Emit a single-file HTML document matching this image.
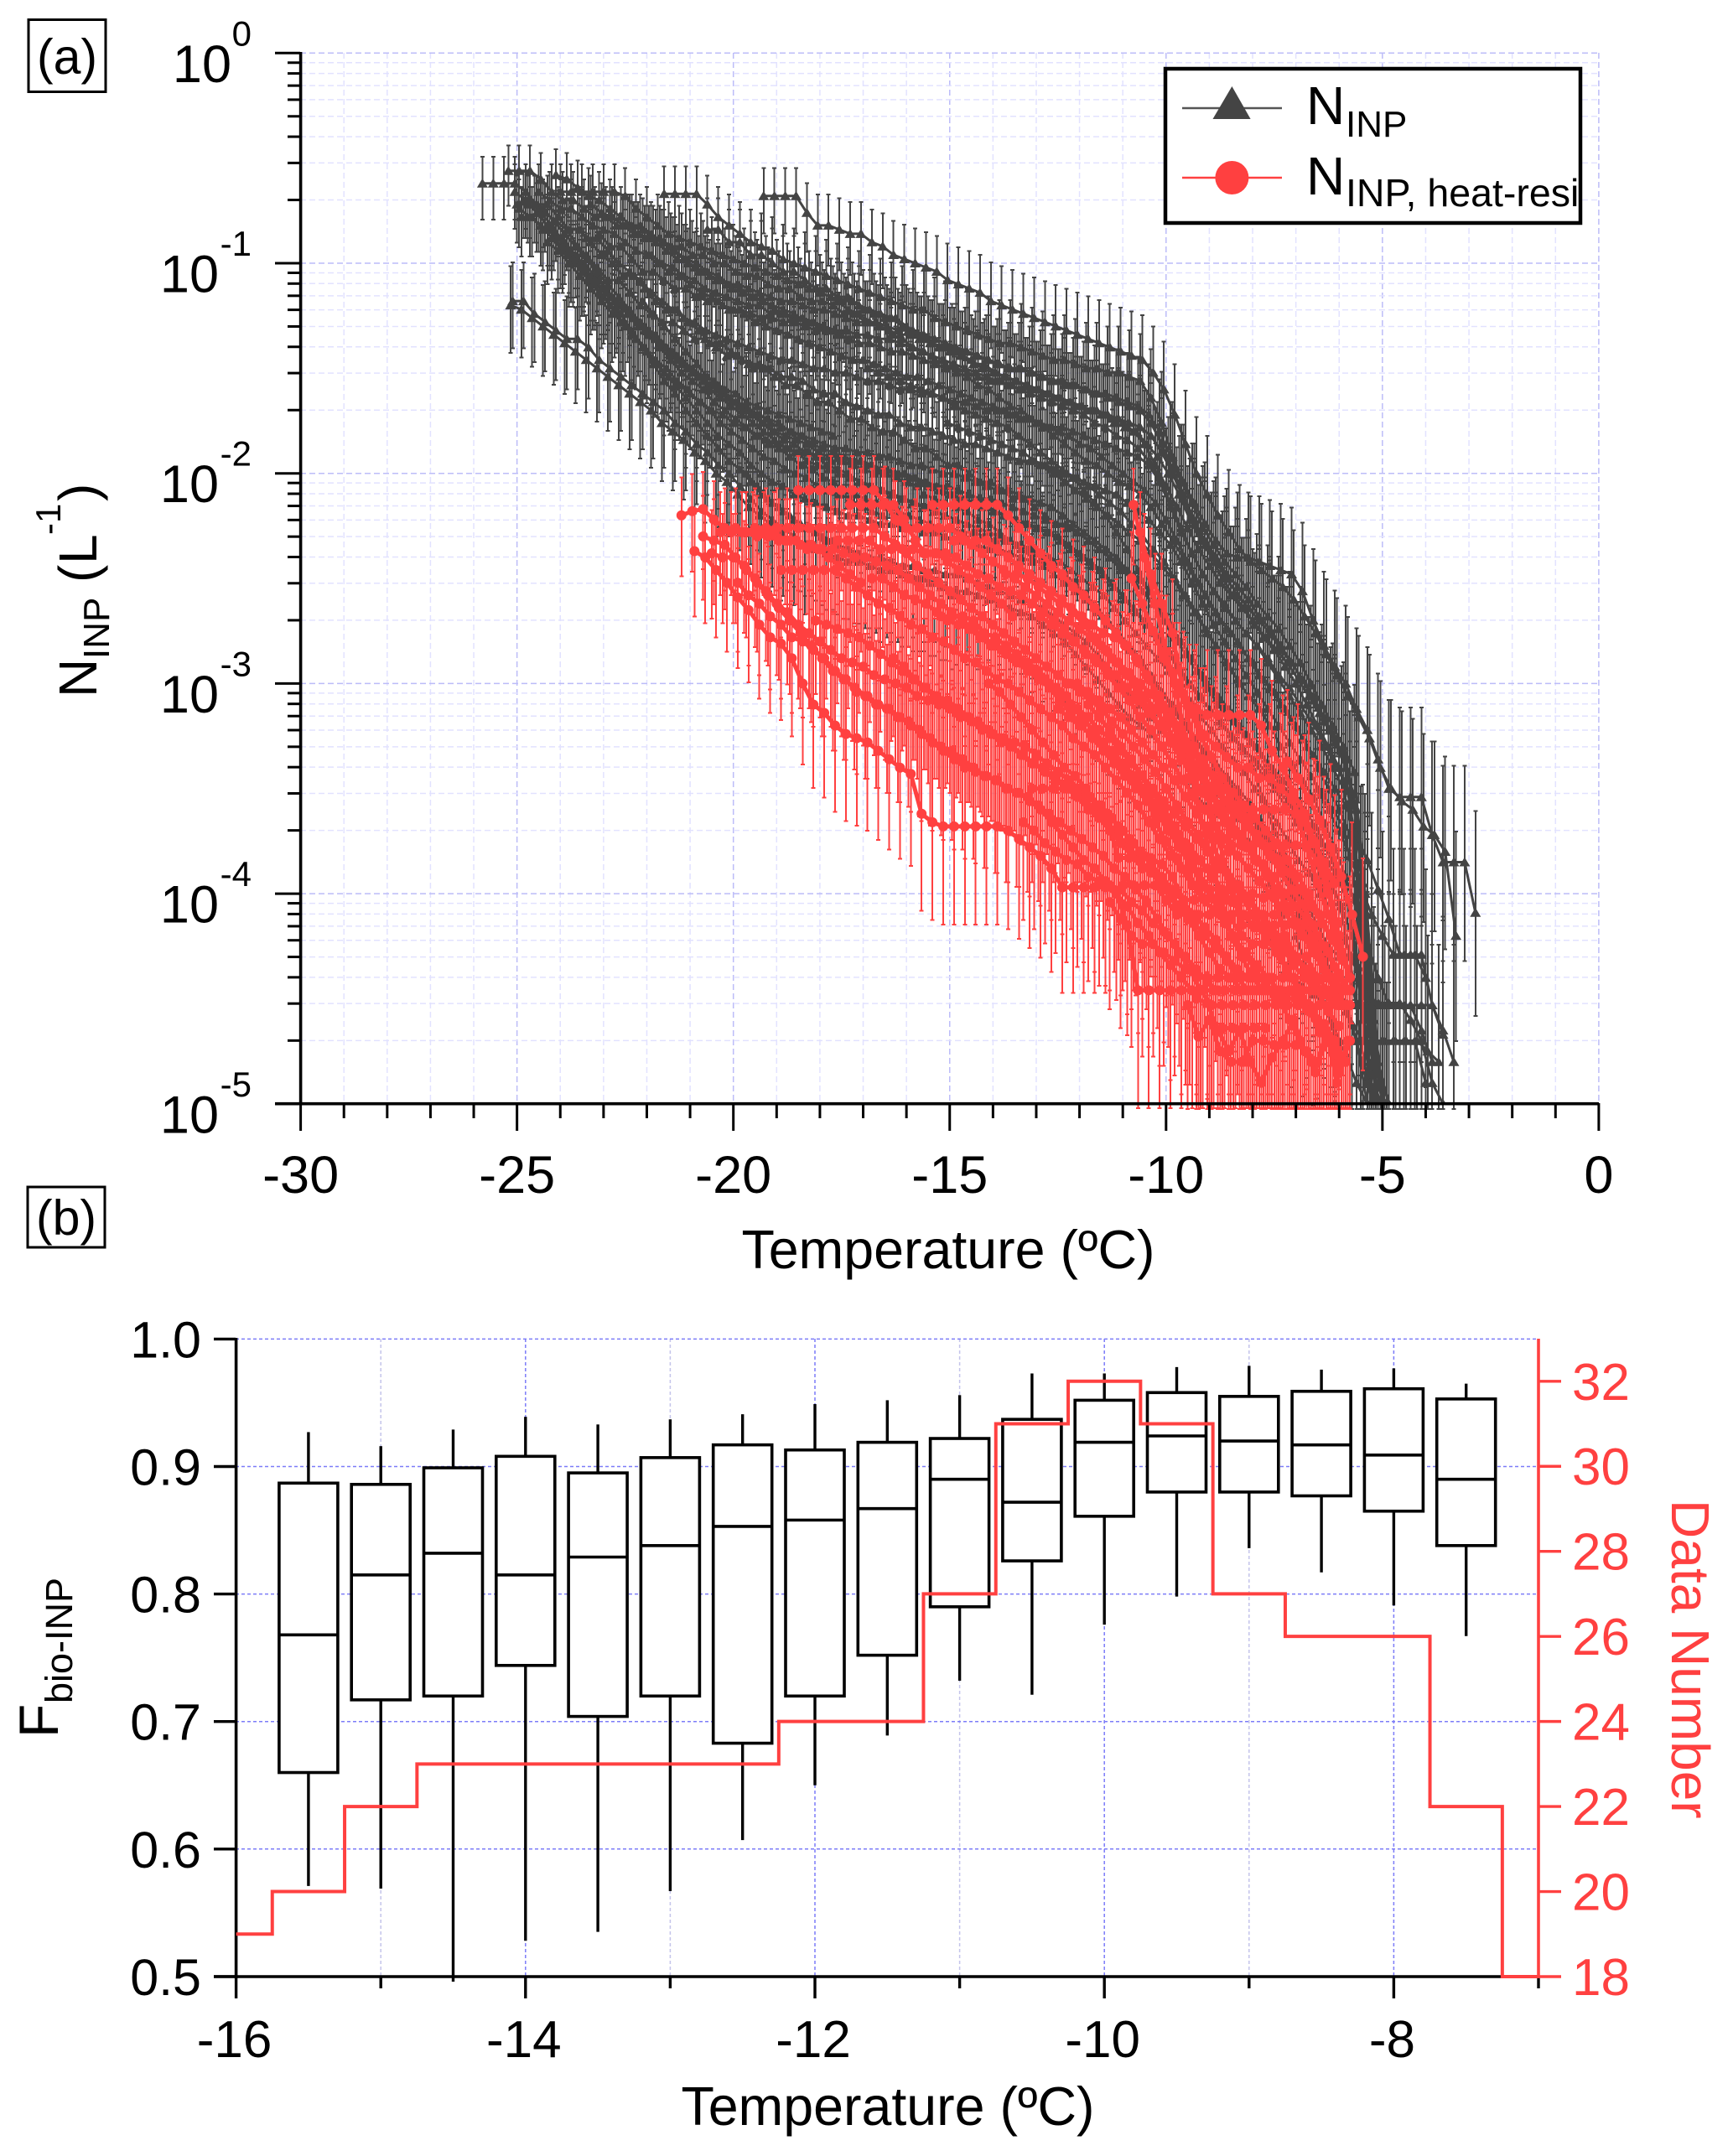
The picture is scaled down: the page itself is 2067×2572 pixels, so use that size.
<!DOCTYPE html>
<html lang="en">
<head>
<meta charset="utf-8">
<title>INP concentration and biological fraction versus temperature</title>
<style>
html,body{margin:0;padding:0;background:#fff;}
svg{display:block;font-family:"Liberation Sans",Arial,sans-serif;}
</style>
</head>
<body>
<svg id="fig" xmlns="http://www.w3.org/2000/svg" width="2067" height="2572" viewBox="0 0 2067 2572">
<defs>
<clipPath id="clipA"><rect x="358" y="60" width="1552" height="1256.5"/></clipPath>
<clipPath id="clipBars"><rect x="358" y="60" width="1552" height="1264"/></clipPath>
</defs>
<rect x="0" y="0" width="2067" height="2572" fill="#fff"/>
<g id="gridA"></g>
<g id="dataA"></g>
<g id="axesA"></g>
<g>
<rect x="1390" y="82" width="495" height="184" fill="#fff" stroke="#000" stroke-width="4.5"/>
<g>
<line x1="1410" y1="129" x2="1529" y2="129" stroke="#555" stroke-width="2.5"/>
<path d="M1469.4 103 L1491.6 142 L1446.5 142 Z" fill="#444"/>
<text x="1558" y="148" font-size="64" fill="#000">N</text>
<text x="1605" y="163" font-size="44" fill="#000">INP</text>
</g>
<g>
<line x1="1410" y1="212" x2="1529" y2="212" stroke="#ff4040" stroke-width="2.5"/>
<circle cx="1469.4" cy="212" r="20" fill="#ff4040"/>
<text x="1558" y="232" font-size="64" fill="#000">N</text>
<text x="1605" y="246" font-size="46.5" fill="#000">INP, heat-resi</text>
</g>
</g>
<g>
<rect x="34" y="23.5" width="92" height="86" fill="none" stroke="#000" stroke-width="3"/>
<text x="80" y="88" font-size="59" text-anchor="middle">(a)</text>
</g>
<g>
<rect x="33" y="1416" width="92" height="72" fill="none" stroke="#000" stroke-width="3"/>
<text x="79" y="1473" font-size="59" text-anchor="middle">(b)</text>
</g>
<g>
<text transform="translate(115,832) rotate(-90)" font-size="64">N</text>
<text transform="translate(130,786) rotate(-90)" font-size="44">INP</text>
<text transform="translate(115,695) rotate(-90)" font-size="64">(</text>
<text transform="translate(115,673) rotate(-90)" font-size="64">L</text>
<text transform="translate(72,638) rotate(-90)" font-size="42">-1</text>
<text transform="translate(115,598) rotate(-90)" font-size="64">)</text>
</g>
<text x="1131" y="1513" font-size="64.5" text-anchor="middle">Temperature (ºC)</text>
<g id="gridB"></g>
<g id="dataB"></g>
<g id="axesB"></g>
<g>
<text transform="translate(69,2073) rotate(-90)" font-size="66">F</text>
<text transform="translate(86,2032) rotate(-90)" font-size="45">bio-INP</text>
</g>
<text x="1059" y="2535" font-size="64.5" text-anchor="middle">Temperature (ºC)</text>
<text transform="translate(1994,1789) rotate(90)" font-size="64" fill="#ff4040">Data Number</text>
</svg>
<script>
// Panel (a): values are -log10(N) x 100, one reading per 0.25 degC starting at the run's start temperature.
const gray01=[62,62,62,62,66,72,72,78,84,84,90,96,100,106,106,112,118,122,122,128,132,138,138,142,146,150,150,154,158,158,162,166,166,170,174,174,178,180,180,184,188,188,192,196,196,200,204,204,208,212,212,216,220,224,224,228,232,236,240,246,250,256,262,270,278,286,294,302,310,316,322,328,334,340,346,352,360,368,378,390,404,435,480,500];
const gray02=[118,118,124,128,132,136,136,140,146,150,154,158,162,166,170,176,180,186,190,196,200,206,212,218,222,226,230,234,236,238,240,242,242,244,246,246,248,250,250,252,254,256,256,258,260,262,264,266,268,272,276,280,286,292,298,304,310,316,320,324,330,338,346,352,358,362,366,370,375,385,395,410,440,444,448,452,468,476,490,500];
const gray03=[56,56,56,60,66,70,70,74,78,78,82,82,86,88,88,92,92,96,96,100,100,104,106,106,110,112,112,116,118,118,120,124,124,128,128,130,132,132,136,138,140,140,144,148,148,152,154,156,158,160,162,164,166,168,170,172,176,178,180,186,192,200,210,222,232,240,250,258,264,272,278,284,290,298,306,314,322,332,352,395,460,500];
const gray04=[66,66,66,66,66,66,68,74,78,82,86,88,90,92,94,96,98,100,102,104,106,108,110,112,114,116,118,118,122,124,126,126,130,134,136,140,142,144,146,150,152,154,156,158,160,162,164,166,168,170,172,174,176,180,186,196,206,216,226,236,244,252,258,264,270,278,284,292,300,310,320,330,340,356,400,470,500];
const gray05=[67,67,67,67,72,78,82,86,90,92,94,98,100,102,104,106,108,110,112,114,116,118,120,122,122,126,128,130,132,134,136,138,138,140,142,144,146,146,148,150,150,152,152,154,156,164,176,192,204,214,224,232,238,240,240,242,244,246,248,256,270,282,292,300,312,322,336,350,354,354,354,372,385,385,385,409];
const gray06=[68,68,68,68,76,82,82,84,86,86,90,92,96,98,100,102,104,108,110,112,114,118,120,122,124,126,128,130,132,134,136,138,140,142,144,146,152,160,172,186,200,210,220,228,236,242,246,250,254,260,268,276,286,296,306,316,326,340,350,356,360,368,372,380,420];
const gray07=[78,78,84,84,90,96,96,102,108,108,114,120,124,128,128,132,136,136,140,144,144,148,148,150,154,154,156,160,162,162,166,168,170,172,172,176,178,178,180,182,184,186,186,188,190,192,194,194,196,198,200,202,204,206,208,210,214,218,222,228,234,242,252,262,272,280,288,296,304,312,320,328,336,344,352,360,368,395,440,490,500];
const gray08=[72,72,76,84,92,98,104,110,116,122,130,136,142,148,154,158,162,166,170,172,176,178,182,184,186,188,190,190,192,194,194,196,198,200,200,202,204,206,206,208,210,212,214,216,218,220,222,224,226,228,230,234,238,242,246,252,258,264,270,276,284,292,300,306,312,318,324,330,336,344,350,358,366,374,384,394,404,430,470,500];
const gray09=[70,76,82,90,96,100,106,112,118,124,128,134,138,144,148,152,156,158,162,166,168,172,174,176,180,182,186,188,190,192,194,196,198,198,200,202,204,206,208,210,212,214,216,218,220,222,224,226,228,232,236,240,244,248,254,260,266,272,278,284,292,300,306,314,320,326,332,336,342,350,356,364,372,384,394,406,420,460,500];
const gray10=[74,80,86,92,98,104,110,116,122,128,134,138,142,148,152,156,160,164,166,170,172,176,178,180,182,184,186,188,188,190,190,192,192,194,196,196,198,200,200,202,204,206,208,208,210,212,214,216,220,224,228,232,236,240,246,250,256,264,272,280,288,296,304,312,318,324,330,338,346,352,360,368,376,384,392,402,440,500];
const gray11=[88,88,94,100,104,108,114,118,122,126,128,132,134,136,138,140,142,144,146,146,148,150,150,152,152,154,156,156,158,160,160,162,162,164,166,166,168,170,170,172,174,174,176,178,178,180,182,184,186,188,190,192,196,204,216,228,238,248,256,264,270,276,282,288,296,302,310,318,326,336,346,358,410,500];
const gray12=[86,92,92,98,104,104,108,112,112,116,118,118,122,122,124,126,126,128,128,130,132,132,134,136,138,138,140,142,142,144,146,148,150,150,152,154,156,156,158,160,160,162,164,166,168,170,170,172,174,176,178,182,190,200,212,224,234,242,250,258,264,270,276,284,290,298,306,316,326,336,360,410,480,500];
const gray13=[82,82,86,90,94,98,102,104,108,110,110,112,114,116,118,118,120,122,122,124,126,128,128,130,132,134,134,136,138,140,142,142,144,146,148,150,150,152,154,156,156,158,160,162,162,164,166,168,172,180,192,204,214,226,234,242,248,254,262,268,274,282,290,300,310,320,330,342,400,500];
const gray14=[84,84,90,90,96,96,100,104,104,108,112,112,116,116,120,122,124,126,130,132,134,136,138,140,142,144,146,148,150,150,152,154,156,158,158,160,162,164,166,168,170,176,186,198,210,222,232,240,248,254,260,268,274,282,290,298,308,318,328,340,390,460,500];
const gray15=[88,94,100,104,110,114,120,124,130,134,140,146,152,156,160,166,170,174,178,182,186,188,192,196,198,202,204,208,210,212,214,216,218,220,222,224,226,226,228,228,230,232,232,234,236,238,240,242,246,250,254,258,264,270,276,282,288,294,300,308,316,322,330,336,342,350,358,366,374,384,390,400,410,420,430,446,470,500];
const gray16=[96,100,106,112,116,120,126,132,136,140,146,150,154,158,162,166,170,172,176,180,182,184,186,190,192,192,194,194,196,198,200,200,202,204,206,206,208,210,212,212,214,216,218,220,222,224,226,228,232,236,240,244,250,256,262,270,278,286,294,300,306,312,320,328,334,342,350,360,368,376,384,392,404,440,490,500];
const gray17=[100,108,114,120,128,134,140,146,152,158,164,170,176,182,186,190,196,200,204,206,210,212,214,216,218,220,220,222,224,224,226,226,228,228,230,232,232,234,236,236,238,240,242,242,244,248,252,258,264,270,276,282,290,298,304,312,320,326,334,340,346,352,360,368,376,384,394,404,414,430,440,456,470,490,500];
const gray18=[118,122,124,128,130,134,136,140,142,146,148,152,154,158,160,164,168,170,174,178,182,186,190,194,196,200,204,206,210,216,224,232,240,250,258,266,274,280,288,296,302,310,318,326,334,342,350,358,372,384,398,412,429,429,429,453,467];
const gray19=[200,204,208,212,216,220,224,228,232,238,244,250,258,266,274,282,290,298,306,312,320,330,338,346,354,366,378,392,408,424,440,453,453,453,453,453,465,480];
const gray20=[210,212,214,216,218,222,224,228,232,236,240,244,248,252,256,260,266,272,278,284,290,298,304,310,318,326,332,340,346,354,362,370,378,386,396,408,420,432,444,452,452,452,452,452,452,460,470,490,500];
const gray21=[118,124,130,136,142,148,154,158,164,168,172,176,180,184,186,190,192,196,198,200,204,206,208,210,212,214,216,218,220,222,224,226,228,230,232,234,236,240,244,248,252,258,264,270,276,282,288,296,304,310,318,326,332,338,344,350,356,364,372,380,392,404,418,430,442,452,470,500];
const gray22=[96,100,102,106,108,112,114,116,118,120,120,124,124,126,126,128,130,132,132,134,134,136,136,138,140,142,144,146,148,150,152,154,156,158,160,162,164,166,168,170,172,176,178,182,184,188,194,202,214,226,238,248,256,262,270,276,282,290,298,306,314,322,330,340,350,375,420,490];
const gray23=[66,70,74,74,78,82,84,86,90,94,96,100,104,106,110,114,116,120,122,124,128,130,132,134,136,138,140,142,144,146,146,148,150,152,154,154,156,158,160,162,164,166,168,170,172,174,176,178,180,182,186,188,192,196,200,204,208,214,222,232,242,252,262,270,276,284,290,298,304,312,320,330,340,350,360,372,400,450,500];
const gray24=[70,72,76,80,84,92,98,108,116,124,132,140,148,156,162,170,176,182,188,194,198,204,210,214,218,222,226,228,232,234,236,238,240,240,242,244,244,246,246,248,248,250,252,254,256,258,260,262,264,268,272,276,280,286,292,298,304,310,316,322,328,334,340,346,352,358,364,368,372,380,390,400,412,424,436,446,456,470,490,500];
const gray25=[400,410,420,430,440,452,462,470,470,470,470,470,470,475,480];
const gray26=[420,436,445,455,470,470,470,470,470,470,470,470,490];
const gray27=[380,400,420,430,453,453,453,453,453,453,465,480];
const gray28=[340,355,370,382,395,405,415,425,430,430,440,453,453,453,453];
const gray29=[350,360,370,382,396,410,420,429,429,429,440];
const gray30=[66,70,76,82,88,94,100,106,112,116,120,126,130,134,140,144,150,154,160,164,168,172,176,180,184,188,190,194,196,198,200,202,204,206,208,210,212,214,216,218];
const gray31=[120,122,126,130,134,138,142,146,150,154,158,162,166,170,176,180,184,190,194,200,204,210,216,220,224,228];
const gray32=[58,60,64,68,70,74,78,82,84,88,90,94,98,100,104,106,110,112,116,118,120,122,124,128];
const gray33=[74,78,82,88,92,98,102,108,114,118,124,128,132,138,142,146,150,154,156,160,162,166,168,170,172,174,176,178,180,182];
const gray34=[90,94,100,106,112,118,124,128,134,140,146,150,156,160,166,170,176,180,184,188,192,194,198,200,202,206,208,210,212,216,218,220];
const gray35=[72,76,78,82,86,88,90,94,98,100,104,106,108,112,114,116,118,122,124,126,128,130,132,134,136];
const gray36=[200,206,212,216,220,224,226,230,232,236,238,240,242,244,246,248,250,252,254,258];
const gray37=[150,152,154,156,158,160,162,164,168,170,172,174,176,178,182,186,190,194,198,202,208,214,220,228,236,246,256,266,276];
const gray38=[176,178,180,182,184,186,188,190,194,196,198,200,202,206,210,214,218,224,230,236,242,250,258,266,276,284,292,300];
const grayRuns=[gray01,gray02,gray03,gray04,gray05,gray06,gray07,gray08,gray09,gray10,gray11,gray12,gray13,gray14,gray15,gray16,gray17,gray18,gray19,gray20,gray21,gray22,gray23,gray24,gray25,gray26,gray27,gray28,gray29,gray30,gray31,gray32,gray33,gray34,gray35,gray36,gray37,gray38];
const grayStarts=[-25.8,-25.1,-25.2,-24.0,-21.6,-19.3,-24.9,-25.0,-24.7,-24.4,-23.4,-23.1,-22.4,-20.6,-24.2,-23.8,-23.6,-17.6,-12.6,-15.6,-22.1,-21.9,-24.5,-24.85,-7.2,-7.0,-6.6,-8.0,-6.5,-25.05,-25.15,-24.1,-24.95,-24.3,-23.3,-19.7,-16.9,-15.05];

const red01=[220,218,217,222,226,226,228,230,230,232,232,234,234,236,236,238,240,240,242,244,246,250,254,258,262,266,270,274,278,282,286,290,294,298,302,308,314,320,326,332,338,344,350,356,362,370,378,386,394,402,410,420,428,436,444,452,453,453,453,453,453,453];
const red02=[237,240,246,252,259,265,272,278,281,288,300,310,314,320,324,326,328,332,336,340,343,362,366,368,368,368,368,368,368,370,374,378,382,388,397,397,397,397,397,400,415,446,446,446,446,446,446,446,446,446,446,446,446,446,450,460,470,480];
const red03=[230,232,234,240,246,252,258,264,270,276,282,288,294,298,302,306,310,312,316,318,322,326,330,332,336,340,344,346,350,352,354,358,362,366,370,374,378,382,388,392,398,404,412,420,428,436,446,453,453,453,453,453,453,453,453,453,453,453,453,453];
const red04=[238,240,240,244,250,256,262,266,272,276,280,284,288,290,292,296,298,300,302,306,308,310,312,316,318,322,324,326,328,330,334,338,342,346,350,354,358,364,370,376,382,390,398,406,412,420,428,436,440,446,446,446,446,450,450,455,460,470,480];
const red05=[226,226,226,226,226,226,226,226,226,226,226,226,230,234,238,244,248,252,256,260,264,268,272,276,280,284,288,292,296,300,304,308,312,318,324,330,336,342,350,358,366,372,380,388,394,402,410,416,420,426,430,436,440,446,453,453];
const red06=[208,208,208,208,208,208,208,208,214,222,226,226,226,226,226,230,234,238,242,246,250,254,258,262,266,270,274,278,282,288,294,300,306,312,320,328,336,344,350,358,366,372,380,386,392,400,406,412,420,428,438,446];
const red07=[215,215,215,215,215,215,215,220,226,232,238,244,248,254,258,264,270,276,282,290,298,306,314,322,330,336,344,350,358,364,372,378,384,390,398,406,414,422,432];
const red08=[232,232,232,232,236,236,236,236,238,238,238,240,244,248,250,254,256,258,262,266,270,274,280,286,290,296,302,308,316,322,330,338,346,354,360,368,374,382,388,394,400,406,414,420,428,436,446,453];
const red09=[246,246,246,246,246,246,250,254,258,262,264,268,272,274,278,280,284,288,290,294,298,300,304,308,312,316,320,326,330,334,340,346,352,358,366,374,382,388,396,402,408,414,422,428,434,440,446,446,446,446,446,446];
const red10=[232,232,232,232,236,240,244,248,252,256,260,266,272,278,284,290,296,304,312,320,328,336,344,352,360,366,372,378,384,392,400,408,416,424,432,440,446];
const red11=[215,240,262,285,305,335,360,380,400,420,430,440,446];
const red12=[248,248,250,254,258,262,264,268,272,276,278,282,288,296,306,316,326,334,344,354,362,370,376,384,390,398,406,414,422,430,440,446];
const red13=[270,272,274,276,278,282,286,290,294,298,302,306,310,314,316,318,322,326,330,334,338,340,344,348,352,356,360,366,372,378,384,390,396,402,408,414,420,426,432,440,446,446,446,446,446,450,456,462,470,480];
const red14=[252,258,262,268,272,278,280,284,288,294,298,304,306,310,312,316,320,324,328,332,336,340,342,344,346,350,352,356,360,366,372,378,384,388,394,400,406,414,420,428,434,440,446,446,446,446,446,446,446,446,446,446];
const red15=[250,250,254,258,260,262,266,270,272,274,278,282,284,288,290,294,298,302,306,312,316,322,326,332,338,344,350,356,362,368,374,380,386,392,398,404,410,416,422,430,436,442,448,453];
const red16=[268,268,268,270,276,278,282,286,290,294,300,304,310,316,322,328,334,340,346,352,358,364,372,378,384,392,398,404,410,416,420,428,436,446,456,466,470,478];
const red17=[228,248,262,276,305,330,350,368,390,405];
const red18=[250,262,275,288,300,308,312,315,315,315,315,315,320,332,340,352,362,376,392,414];
const red19=[285,295,305,315,325,330,335,340,340,345,345,350,355,365,375,385,395];
const red20=[312,316,320,324,328,332,338,344,350,358,366,374,382,390,398,406,412,420,424,424,424,424,430,438,446,456,463];
const red21=[453,468,460,475,480,480,470,470,472,472,472,475,480,470,485,470];
const red22=[404,412,420,424,424,428,432,436,440,440,440,440,440,440,440,440,440,440,440,440,440,440];
const red23=[366,370,376,380,384,386,392,394,396,398,404,408,414,418,424,430,436,442,446];
const red24=[300,300,304,308,312,316,322,328,334,340,346,354,362,368,374,380];
const red25=[350,350,350,350,350,352,358,366,383,383,383,383,386,392,403,403,403,403,403,403,403,410,418,430,440,446];
const red26=[396,396,396,396,403,410,410,410,410,410,410,410,410,410,410];
const red27=[464,464,464,464,464];
const red28=[360,360,360,360,360,360,362,378,395,410,425,440];
const red29=[345,350,350,350,377,377,377,377,377,377,377,377,385,400,420,440];
const red30=[372,385,395,400,400,402,402,420,430,430,440,440,450];
const red31=[350,366,375,383,390,398,398,398,398,415,415,415,415,415,415,415,425,440];
const red32=[337,345,355,365,378,392,410,430];
const red33=[310,316,322,330,336,344,352,360,368,376,384,388,388,392,396,403,410,418,426,434,440,446];
const red34=[300,312,325,335,345,352,358,364,370,376,384,392,400,410,420,430];
const red35=[300,304,310,316,322,328,334,340,344,350,358,362,368,374,380,386,392,398,404,410,416,422,430,436,440];
const red36=[288,292,298,302,306,308,312,316,320,324,328,330,334,338,342,346,350,354,360,364,370,376,382,388];
const red37=[268,272,276,280,284,288,292,296,302,308,314,320,326,332,338,344,350,356,362,368,374,380,386];
const red38=[280,285,290,295,300,305,312,318,325,332,340,348,356,362,368,375,382,390,398,405,415,425,435,446];
const red39=[450,452,465,475,465,480,490,478,470,460,475,485,465,490,470];
const red40=[215,215,215,215,215,222,232,238,238,242,246,250,254,258,262,268];
const red41=[228,228,228,228,228,228,232,232,236,236,240,244,248,252];
const redRuns=[red01,red02,red03,red04,red05,red06,red07,red08,red09,red10,red11,red12,red13,red14,red15,red16,red17,red18,red19,red20,red21,red22,red23,red24,red25,red26,red27,red28,red29,red30,red31,red32,red33,red34,red35,red36,red37,red38,red39,red40,red41];
const redStarts=[-21.2,-20.9,-20.7,-20.5,-19.5,-18.5,-15.4,-17.6,-18.9,-14.9,-10.75,-13.7,-18.1,-19.9,-16.8,-15.2,-10.6,-10.8,-10.1,-12.5,-9.5,-11.3,-13.3,-12.3,-13.1,-11.0,-8.7,-8.5,-9.5,-9.0,-10.5,-7.2,-11.8,-9.7,-14.1,-16.3,-12.9,-11.6,-9.3,-17.3,-20.3];

const xTicksA=[-30,-25,-20,-15,-10,-5,0];
const xMinorA=[-29,-28,-27,-26,-24,-23,-22,-21,-19,-18,-17,-16,-14,-13,-12,-11,-9,-8,-7,-6,-4,-3,-2,-1];
const yDecadesA=[0,-1,-2,-3,-4,-5];
const logMinorFactors=[2,3,4,5,6,7,8,9];

// Panel (b)
const boxTemps=[-15.5,-15,-14.5,-14,-13.5,-13,-12.5,-12,-11.5,-11,-10.5,-10,-9.5,-9,-8.5,-8,-7.5];
const whiskerHigh=[.927,.916,.929,.939,.933,.937,.941,.949,.952,.956,.973,.973,.978,.979,.976,.977,.965];
const boxQ3=[.887,.886,.899,.908,.895,.907,.917,.913,.919,.922,.937,.952,.958,.955,.959,.961,.953];
const boxMedian=[.768,.815,.832,.815,.829,.838,.853,.858,.867,.890,.872,.919,.924,.920,.917,.909,.890];
const boxQ1=[.660,.717,.720,.744,.704,.720,.683,.720,.752,.790,.826,.861,.880,.880,.877,.865,.838];
const whiskerLow=[.571,.569,.496,.528,.535,.567,.607,.650,.689,.732,.721,.776,.798,.836,.817,.791,.767];
const stepTemps=[-16,-15.5,-15,-14.5,-14,-13.5,-13,-12.5,-12,-11.5,-11,-10.5,-10,-9.5,-9,-8.5,-8,-7.5,-7];
const stepCounts=[19,20,22,23,23,23,23,23,24,24,27,31,32,31,27,26,26,22,18];
const xTicksB=[-16,-14,-12,-10,-8];
const xMinorB=[-15,-13,-11,-9,-7];
const yTicksB=["1.0","0.9","0.8","0.7","0.6","0.5"];
const rightTicksB=[18,20,22,24,26,28,30,32];

const NS='http://www.w3.org/2000/svg';
function mk(parent,tag,attrs,text){
  const e=document.createElementNS(NS,tag);
  for(const k in attrs)e.setAttribute(k,attrs[k]);
  if(text!==undefined)e.textContent=text;
  parent.appendChild(e);
  return e;
}
const xA=t=>358.6+(t+30)*51.61;
const yA=l=>63.3-l*250.7;
const xB=t=>281.6+(t+16)*172.6;
const yB=v=>1597.4+(1-v)*1521;
const yR=n=>2358-(n-18)*50.73;

const gridA=document.getElementById('gridA');
const axesA=document.getElementById('axesA');
const dataA=document.getElementById('dataA');
const gridB=document.getElementById('gridB');
const axesB=document.getElementById('axesB');
const dataB=document.getElementById('dataB');

// grid, panel a
xMinorA.forEach(t=>{
  const g=mk(gridA,'line',{x1:xA(t),x2:xA(t),y1:63,y2:1316,stroke:'#e2e2ff','stroke-width':1.5,'stroke-dasharray':'7 4'});
  
  
});
xTicksA.forEach(t=>{
  const g=mk(gridA,'line',{x1:xA(t),x2:xA(t),y1:63,y2:1316,stroke:'#bcbcf8','stroke-width':1.5,'stroke-dasharray':'7 4'});
  
  
});
yDecadesA.forEach(d=>{
  const g=mk(gridA,'line',{x1:358,x2:1907,y1:yA(d),y2:yA(d),stroke:'#bcbcf8','stroke-width':1.5,'stroke-dasharray':'7 4'});
  
  
  if(d===-5)return;
  logMinorFactors.forEach(f=>{
    const m=mk(gridA,'line',{x1:358,x2:1907,y1:yA(d-1+Math.log10(f)),y2:yA(d-1+Math.log10(f)),stroke:'#e2e2ff','stroke-width':1.5,'stroke-dasharray':'7 4'});
    
    
  });
});

// series, panel a
function drawRun(values,start,opt,name){
  let bars='',line='',marks='';
  values.forEach((v,i)=>{
    const t=start+i*0.25, l=-v/100, x=xA(t).toFixed(1);
    const up=opt.upA+opt.upB*(opt.ref-l), dn=opt.dnA+opt.dnB*(opt.ref-l);
    const yT=yA(l+up), yC=yA(l);
    const yL=Math.min(yA(l-dn),1323);
    if(yT<1323){
      bars+='M'+x+' '+yT.toFixed(1)+'V'+yL.toFixed(1)+'M'+(+x-2.5)+' '+yT.toFixed(1)+'h5M'+(+x-2.5)+' '+yL.toFixed(1)+'h5';
    }
    line+=(i?'L':'M')+x+' '+yC.toFixed(1);
    if(opt.circle){
      marks+='M'+(+x-6)+' '+yC.toFixed(1)+'a6 6 0 1 0 12 0a6 6 0 1 0 -12 0Z';
    }else{
      marks+='M'+x+' '+(yC-6).toFixed(1)+'l6.5 11h-13Z';
    }
  });
  const g=mk(dataA,'g',{});
  
  
  mk(g,'path',{d:bars,stroke:opt.color,'stroke-width':2,'shape-rendering':'crispEdges',fill:'none','clip-path':'url(#clipBars)'});
  mk(g,'path',{d:line,stroke:opt.color,'stroke-width':opt.lw,fill:'none','stroke-linejoin':'round','clip-path':'url(#clipA)'});
  mk(g,'path',{d:marks,fill:opt.color,'clip-path':'url(#clipA)'});
}
const grayOpt={color:'#444444',lw:3,circle:false,ref:-0.62,upA:.126,upB:.103,dnA:.173,dnB:.092};
const redOpt={color:'#ff4040',lw:5,circle:true,ref:-2.2,upA:.18,upB:.137,dnA:.29,dnB:.12};
grayRuns.forEach((r,i)=>drawRun(r,grayStarts[i],grayOpt,'ninp-run-'+(i+1)));
redRuns.forEach((r,i)=>drawRun(r,redStarts[i],redOpt,'ninp-heat-resi-run-'+(i+1)));

// axes, panel a
const axisAX=mk(axesA,'line',{x1:328,x2:1907,y1:1316.7,y2:1316.7,stroke:'#000','stroke-width':3.6});


const axisAY=mk(axesA,'line',{x1:358.6,x2:358.6,y1:62,y2:1318,stroke:'#000','stroke-width':3.6});


xMinorA.forEach(t=>{
  const k=mk(axesA,'line',{x1:xA(t),x2:xA(t),y1:1316,y2:1334,stroke:'#000','stroke-width':3});
  
  
});
xTicksA.forEach(t=>{
  const k=mk(axesA,'line',{x1:xA(t),x2:xA(t),y1:1316,y2:1349,stroke:'#000','stroke-width':3});
  
  
  const s=mk(axesA,'text',{x:xA(t),y:1423,'font-size':63,'text-anchor':'middle',fill:'#000'},String(t));
  
  
});
yDecadesA.forEach(d=>{
  const y=yA(d);
  const k=mk(axesA,'line',{x1:328,x2:358,y1:y,y2:y,stroke:'#000','stroke-width':3});
  
  
  const sup=String(d);
  const supW=d===0?23:37;
  const m=mk(axesA,'text',{x:d===0?276:261,y:y+34.5,'font-size':63,'text-anchor':'end',fill:'#000'},'10');
  
  
  const e=mk(axesA,'text',{x:300,y:y-9,'font-size':42,'text-anchor':'end',fill:'#000'},sup);
  
  
  if(d===-5)return;
  logMinorFactors.forEach(f=>{
    const yy=yA(d-1+Math.log10(f));
    const mk2=mk(axesA,'line',{x1:343,x2:358,y1:yy,y2:yy,stroke:'#000','stroke-width':3});
    
    
  });
});

// grid, panel b
xMinorB.slice(0,4).forEach(t=>{
  const g=mk(gridB,'line',{x1:xB(t),x2:xB(t),y1:1597,y2:2358,stroke:'#c4c4ea','stroke-width':1.5,'stroke-dasharray':'4 3'});
  
  
});
xTicksB.forEach(t=>{
  const g=mk(gridB,'line',{x1:xB(t),x2:xB(t),y1:1597,y2:2358,stroke:'#7c7cf8','stroke-width':1.5,'stroke-dasharray':'4 3'});
  
  
});
yTicksB.forEach(s=>{
  const v=parseFloat(s);
  const g=mk(gridB,'line',{x1:281,x2:1835,y1:yB(v),y2:yB(v),stroke:'#7c7cf8','stroke-width':1.5,'stroke-dasharray':'4 3'});
  
  
});

// boxes
boxTemps.forEach((t,i)=>{
  const g=mk(dataB,'g',{});
  
  
  const x=xB(t);
  mk(g,'line',{x1:x,x2:x,y1:yB(whiskerHigh[i]),y2:yB(boxQ3[i]),stroke:'#000','stroke-width':3.4});
  mk(g,'line',{x1:x,x2:x,y1:yB(boxQ1[i]),y2:yB(whiskerLow[i]),stroke:'#000','stroke-width':3.4});
  mk(g,'rect',{x:x-35,y:yB(boxQ3[i]),width:70,height:yB(boxQ1[i])-yB(boxQ3[i]),fill:'#fff',stroke:'#000','stroke-width':3.6});
  mk(g,'line',{x1:x-35,x2:x+35,y1:yB(boxMedian[i]),y2:yB(boxMedian[i]),stroke:'#000','stroke-width':3.6});
});

// axes, panel b (black)
const axisBX=mk(axesB,'line',{x1:255,x2:1835,y1:2358,y2:2358,stroke:'#000','stroke-width':3.6});


const axisBY=mk(axesB,'line',{x1:281.6,x2:281.6,y1:1596,y2:2360,stroke:'#000','stroke-width':3.6});


xTicksB.forEach(t=>{
  const k=mk(axesB,'line',{x1:xB(t),x2:xB(t),y1:2358,y2:2384,stroke:'#000','stroke-width':3.4});
  
  
  const s=mk(axesB,'text',{x:xB(t)-2,y:2454,'font-size':62,'text-anchor':'middle',fill:'#000'},String(t));
  
  
});
xMinorB.forEach(t=>{
  const k=mk(axesB,'line',{x1:xB(t),x2:xB(t),y1:2358,y2:2372,stroke:'#000','stroke-width':3.4});
  
  
});
yTicksB.forEach(s=>{
  const v=parseFloat(s);
  const k=mk(axesB,'line',{x1:255,x2:281,y1:yB(v),y2:yB(v),stroke:'#000','stroke-width':3.4});
  
  
  const lb=mk(axesB,'text',{x:240,y:yB(v)+22,'font-size':61,'text-anchor':'end',fill:'#000'},s);
  
  
});

// step line (centred steps)
(function(){
  let d='M'+xB(stepTemps[0])+' '+yR(stepCounts[0]);
  for(let i=1;i<stepTemps.length;i++){
    const mid=xB((stepTemps[i-1]+stepTemps[i])/2);
    d+='H'+mid+'V'+yR(stepCounts[i]);
  }
  d+='H'+xB(stepTemps[stepTemps.length-1]);
  const p=mk(axesB,'path',{d:d,fill:'none',stroke:'#ff4040','stroke-width':4});
  
  
})();

// right axis
const axisR=mk(axesB,'line',{x1:1835,x2:1835,y1:1597,y2:2360,stroke:'#ff4040','stroke-width':3.6});


rightTicksB.forEach(n=>{
  const k=mk(axesB,'line',{x1:1835,x2:1862,y1:yR(n),y2:yR(n),stroke:'#ff4040','stroke-width':3.4});
  
  
  const s=mk(axesB,'text',{x:1875,y:yR(n)+22,'font-size':62,fill:'#ff4040'},String(n));
  
  
});
</script>
</body>
</html>
